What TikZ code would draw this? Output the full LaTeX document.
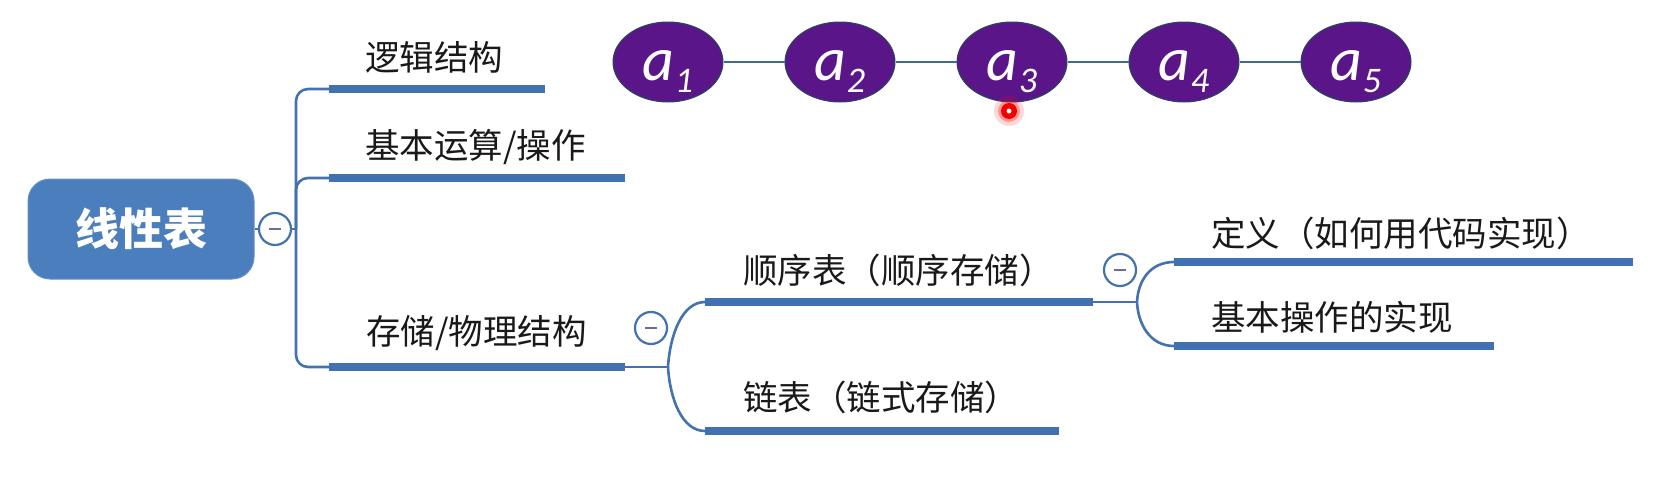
\documentclass[tikz,border=0pt]{standalone}
\usepackage{fontspec}
\newfontfamily\cjk{Noto Sans CJK SC}
\newfontfamily\calfont{Carlito}
\usetikzlibrary{shapes.geometric}
\definecolor{rootblue}{RGB}{74,126,188}
\definecolor{barblue}{RGB}{66,113,178}
\definecolor{linkblue}{RGB}{68,114,175}
\definecolor{elpurple}{RGB}{90,22,136}
\definecolor{elborder}{RGB}{40,70,100}
\definecolor{chainline}{RGB}{62,108,138}
\definecolor{minusc}{RGB}{110,108,150}
\definecolor{txt}{RGB}{25,25,25}
\begin{document}
\begin{tikzpicture}[x=1pt,y=-1pt,
  root/.style={rounded corners=22pt, fill=rootblue, draw=rootblue!85!white, line width=1pt,
    minimum width=226pt, minimum height=100pt, text=white, inner sep=0,
    font=\cjk\bfseries\fontsize{44}{44}\selectfont},
  topic/.style={anchor=west, inner sep=0, text=txt, font=\cjk\fontsize{34.5}{36}\selectfont},
  bar/.style={line width=8pt, barblue},
  conn/.style={line width=2.6pt, linkblue},
  fold/.style={circle, draw=linkblue, line width=2.2pt, fill=white, minimum size=32pt, inner sep=0,
    path picture={\draw[minusc, line width=2.4pt] ([xshift=-6pt]path picture bounding box.center) -- ([xshift=6pt]path picture bounding box.center);}},
  elem/.style={ellipse, fill=elpurple, draw=elborder, line width=1pt, minimum width=110pt, minimum height=80pt, inner sep=0},
  elab/.style={anchor=base, inner sep=0, text=white, font=\calfont\itshape\fontsize{62}{62}\selectfont},
  chain/.style={line width=2.6pt, chainline}]
\useasboundingbox (0,0) rectangle (1676,482);
\fill[white] (0,0) rectangle (1676,482);

% element chain
\foreach \i/\x in {1/668,2/840,3/1012,4/1184,5/1356}{
  \node[elem] (a\i) at (\x,62) {};
  \node[elab] (a\i t) at (\x,80) {a\raisebox{-12pt}{\fontsize{36}{36}\selectfont \i}};
}
\draw[chain] (a1) -- (a2);
\draw[chain] (a2) -- (a3);
\draw[chain] (a3) -- (a4);
\draw[chain] (a4) -- (a5);

% root
\node[root] (root) at (141,229) {线性表};
\node[fold] (c0) at (275,229) {};
\coordinate (tr) at (296,229);
\draw[conn] (root.east) -- (c0.west);
\draw[conn] (c0.east) -- (tr);

% level 1
\coordinate (b1s) at (329,89);  \coordinate (b1e) at (545,89);
\coordinate (b2s) at (329,178); \coordinate (b2e) at (625,178);
\coordinate (b3s) at (329,367); \coordinate (b3e) at (625,367);
\draw[conn, rounded corners=12pt] (tr) |- (b1s);
\draw[conn, rounded corners=12pt] (tr) |- (b2s);
\draw[conn, rounded corners=12pt] (tr) |- (b3s);
\draw[bar] (b1s) -- (b1e);
\draw[bar] (b2s) -- (b2e);
\draw[bar] (b3s) -- (b3e);
\node[topic] (t1) at (365,57) {逻辑结构};
\node[topic] (t2) at (365,147) {基本运算/操作};
\node[topic] (t3) at (366,333) {存储/物理结构};

% level 2
\node[fold] (c1) at (651,328) {};
\coordinate (f2) at (668,367);
\coordinate (s1s) at (705,302); \coordinate (s1e) at (1093,302);
\coordinate (s2s) at (705,431); \coordinate (s2e) at (1059,431);
\draw[conn] (b3e) -- (f2);
\draw[conn] (f2) .. controls (670,335) and (682,302) .. (s1s);
\draw[conn] (f2) .. controls (670,399) and (682,431) .. (s2s);
\draw[bar] (s1s) -- (s1e);
\draw[bar] (s2s) -- (s2e);
\node[topic] (t4) at (743,270) {顺序表（顺序存储）};
\node[topic] (t5) at (743,397) {链表（链式存储）};

% level 3
\node[fold] (c2) at (1120,270) {};
\coordinate (f3) at (1137,302);
\coordinate (d1s) at (1174,262); \coordinate (d1e) at (1633,262);
\coordinate (d2s) at (1174,346); \coordinate (d2e) at (1494,346);
\draw[conn] (s1e) -- (f3);
\draw[conn] (f3) .. controls (1138,281) and (1150,262) .. (d1s);
\draw[conn] (f3) .. controls (1138,324) and (1150,346) .. (d2s);
\draw[bar] (d1s) -- (d1e);
\draw[bar] (d2s) -- (d2e);
\node[topic] (t6) at (1211,233) {定义（如何用代码实现）};
\node[topic] (t7) at (1211,317) {基本操作的实现};

% laser pointer dot
\fill[red, opacity=0.15] (1009,111) circle (15pt);
\fill[red, opacity=0.3] (1009,111) circle (11pt);
\fill[red!95!black] (1009,111) circle (8pt);
\fill[white] (1009,111) circle (2.5pt);
\end{tikzpicture}
\end{document}
